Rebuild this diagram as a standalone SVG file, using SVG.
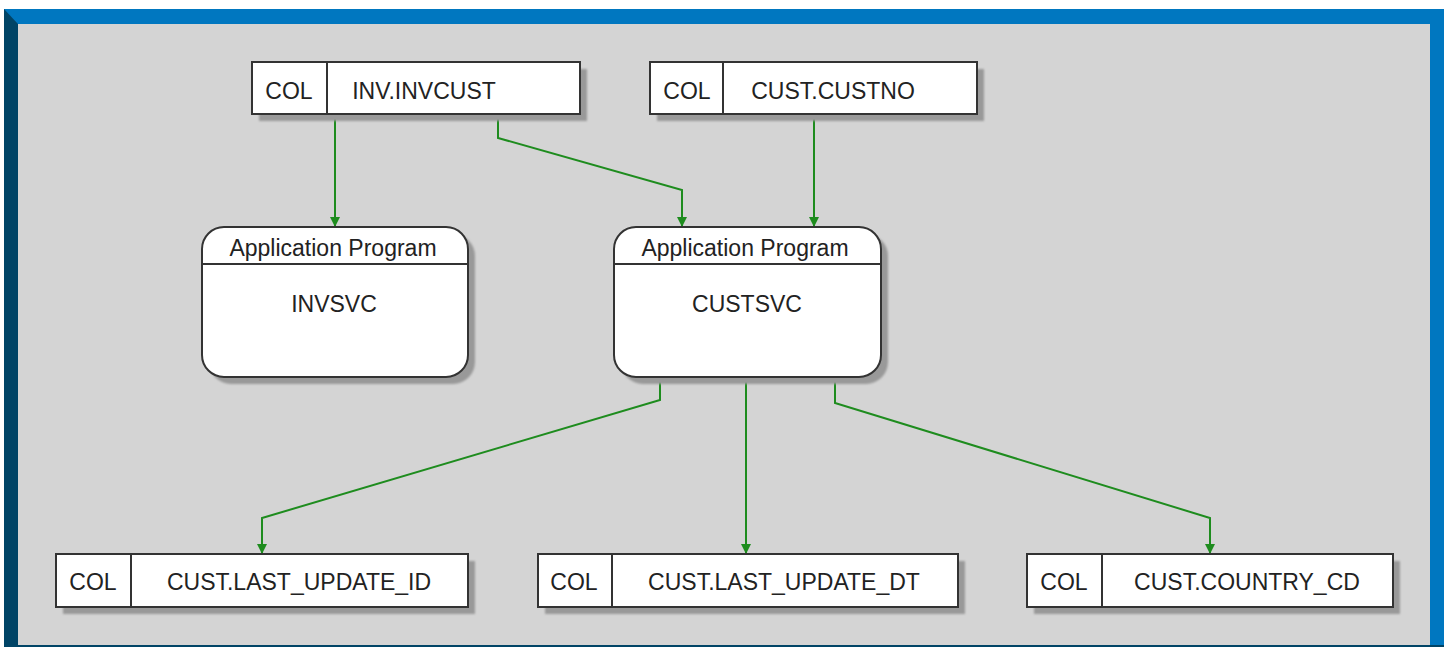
<svg xmlns="http://www.w3.org/2000/svg" width="1450" height="647" viewBox="0 0 1450 647">
<defs>
<style>
.box{fill:#fff;stroke:#333;stroke-width:2}
.shadow{fill:#999}
.t{font-family:"Liberation Sans",Arial,sans-serif;font-size:23px;fill:#222}
.c{stroke:#1e8c1e;stroke-width:2;fill:none}
</style>
<marker id="ah" viewBox="0 0 10 10" refX="10" refY="5" markerWidth="10" markerHeight="10" markerUnits="userSpaceOnUse" orient="auto">
<path d="M0,0 L10,5 L0,10 z" fill="#1e8c1e"/>
</marker>
<filter id="blur" x="-5%" y="-20%" width="110%" height="140%"><feGaussianBlur stdDeviation="1.2"/></filter>
</defs>
<rect width="1450" height="647" fill="#fff"/>
<rect x="4" y="9" width="1440" height="638" fill="#0077c0"/>
<polygon points="4,9 18,24 18,647 4,647" fill="#004466"/>
<rect x="4" y="645" width="1440" height="2" fill="#004466"/>
<rect x="18" y="24" width="1412" height="621" fill="#d4d4d4"/>

<g id="connectors">
<polyline class="c" points="335,114 335,227" marker-end="url(#ah)"/>
<polyline class="c" points="498,114 498,138 682,190 682,227" marker-end="url(#ah)"/>
<polyline class="c" points="814,114 814,227" marker-end="url(#ah)"/>
<polyline class="c" points="660,377 660,400 262,518 262,554" marker-end="url(#ah)"/>
<polyline class="c" points="746,377 746,554" marker-end="url(#ah)"/>
<polyline class="c" points="835,377 835,403 1210,518 1210,554" marker-end="url(#ah)"/>
</g>

<g id="col-inv-invcust">
<rect class="shadow" x="259" y="69" width="328" height="52" filter="url(#blur)"/>
<rect class="box" x="252" y="62" width="328" height="52"/>
<line x1="327" y1="62" x2="327" y2="114" stroke="#333" stroke-width="2"/>
<text class="t" x="289" y="99" text-anchor="middle">COL</text>
<text class="t" x="424" y="99" text-anchor="middle">INV.INVCUST</text>
</g>

<g id="col-cust-custno">
<rect class="shadow" x="657" y="69" width="327" height="52" filter="url(#blur)"/>
<rect class="box" x="650" y="62" width="327" height="52"/>
<line x1="723" y1="62" x2="723" y2="114" stroke="#333" stroke-width="2"/>
<text class="t" x="687" y="99" text-anchor="middle">COL</text>
<text class="t" x="833" y="99" text-anchor="middle">CUST.CUSTNO</text>
</g>

<g id="app-invsvc">
<rect class="shadow" x="209" y="234" width="266" height="150" rx="22" filter="url(#blur)"/>
<rect class="box" x="202" y="227" width="266" height="150" rx="22"/>
<line x1="202" y1="264" x2="468" y2="264" stroke="#333" stroke-width="2"/>
<text class="t" x="333" y="256" text-anchor="middle">Application Program</text>
<text class="t" x="334" y="312" text-anchor="middle">INVSVC</text>
</g>

<g id="app-custsvc">
<rect class="shadow" x="621" y="234" width="267" height="150" rx="22" filter="url(#blur)"/>
<rect class="box" x="614" y="227" width="267" height="150" rx="22"/>
<line x1="614" y1="264" x2="881" y2="264" stroke="#333" stroke-width="2"/>
<text class="t" x="745" y="256" text-anchor="middle">Application Program</text>
<text class="t" x="747" y="312" text-anchor="middle">CUSTSVC</text>
</g>

<g id="col-last-update-id">
<rect class="shadow" x="63" y="561" width="412" height="53" filter="url(#blur)"/>
<rect class="box" x="56" y="554" width="412" height="53"/>
<line x1="131" y1="554" x2="131" y2="607" stroke="#333" stroke-width="2"/>
<text class="t" x="93" y="590" text-anchor="middle">COL</text>
<text class="t" x="299" y="590" text-anchor="middle">CUST.LAST_UPDATE_ID</text>
</g>

<g id="col-last-update-dt">
<rect class="shadow" x="545" y="561" width="420" height="53" filter="url(#blur)"/>
<rect class="box" x="538" y="554" width="420" height="53"/>
<line x1="612" y1="554" x2="612" y2="607" stroke="#333" stroke-width="2"/>
<text class="t" x="574" y="590" text-anchor="middle">COL</text>
<text class="t" x="784" y="590" text-anchor="middle">CUST.LAST_UPDATE_DT</text>
</g>

<g id="col-country-cd">
<rect class="shadow" x="1034" y="561" width="366" height="53" filter="url(#blur)"/>
<rect class="box" x="1027" y="554" width="366" height="53"/>
<line x1="1102" y1="554" x2="1102" y2="607" stroke="#333" stroke-width="2"/>
<text class="t" x="1064" y="590" text-anchor="middle">COL</text>
<text class="t" x="1247" y="590" text-anchor="middle">CUST.COUNTRY_CD</text>
</g>
</svg>
